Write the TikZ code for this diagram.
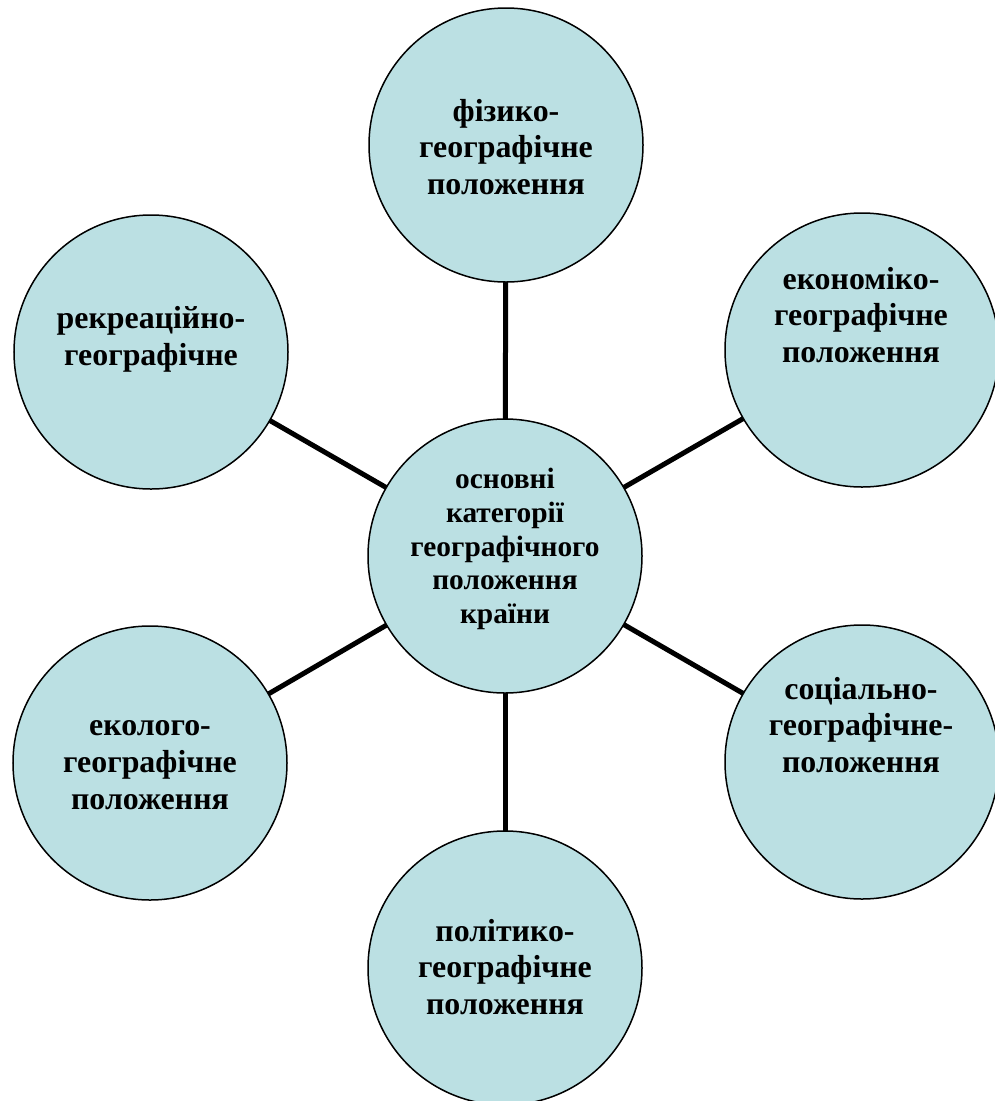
\documentclass[tikz,border=0pt]{standalone}
\usepackage{fontspec}
\setmainfont{Liberation Serif}
\definecolor{bubble}{RGB}{187,224,227}
\tikzset{
  cat/.style={circle, draw=black, line width=1.5bp, fill=bubble,
    minimum size=274bp, inner sep=0pt, outer sep=0pt},
  lbl/.style={align=center, font=\fontsize{32}{37}\selectfont\bfseries,
    inner sep=0pt},
  link/.style={line width=5bp, draw=black}
}
\begin{document}
\begin{tikzpicture}[x=1bp,y=-1bp]
  \useasboundingbox (0,0) rectangle (995,1101);

  % category circles
  \node[cat] (c)  at (505,556) {};
  \node[cat] (n)  at (506,145) {};
  \node[cat] (nw) at (151,352) {};
  \node[cat] (ne) at (862,350) {};
  \node[cat] (sw) at (150,763) {};
  \node[cat] (se) at (862,762) {};
  \node[cat] (s)  at (505,968) {};

  % spokes from the hub to every category
  \foreach \t in {n,nw,ne,sw,se,s}
    \draw[link] (c) -- (\t);

  % captions
  \node[lbl, font=\fontsize{29.5}{34}\selectfont\bfseries] (tc) at (505,549)
    {основні\\категорії\\географічного\\положення\\країни};
  \node[lbl] (tn)  at (506,147) {фізико-\\географічне\\положення};
  \node[lbl] (tnw) at (151,339) {рекреаційно-\\географічне};
  \node[lbl] (tne) at (861,315) {економіко-\\географічне\\положення};
  \node[lbl] (tsw) at (150,765) {еколого-\\географічне\\положення};
  \node[lbl] (tse) at (861,725) {соціально-\\географічне-\\положення};
  \node[lbl] (ts)  at (505,967) {політико-\\географічне\\положення};
\end{tikzpicture}
\end{document}
